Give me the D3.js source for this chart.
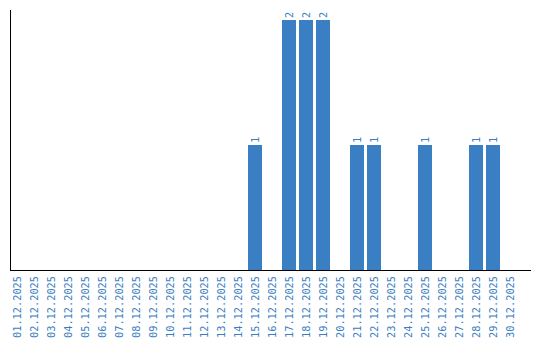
<!DOCTYPE html>
<html><head><meta charset="utf-8">
<script src="https://cdn.jsdelivr.net/npm/d3@7"></script>
<style>body{margin:0;background:#fff}svg{display:block}text{font-family:"DejaVu Sans Mono",monospace}</style>
</head><body><svg id="c" width="540" height="340"></svg>
<script>
const dates = ["01.12.2025","02.12.2025","03.12.2025","04.12.2025","05.12.2025","06.12.2025","07.12.2025","08.12.2025","09.12.2025","10.12.2025","11.12.2025","12.12.2025","13.12.2025","14.12.2025","15.12.2025","16.12.2025","17.12.2025","18.12.2025","19.12.2025","20.12.2025","21.12.2025","22.12.2025","23.12.2025","24.12.2025","25.12.2025","26.12.2025","27.12.2025","28.12.2025","29.12.2025","30.12.2025"];
const counts = [0,0,0,0,0,0,0,0,0,0,0,0,0,0,1,0,2,2,2,0,1,1,0,0,1,0,0,1,1,0];

const svg = d3.select("#c");
const color = "#3a7ec3";
const font = "DejaVu Sans Mono, monospace";
const x = d3.scaleBand().domain(dates).range([8.5, 518.5]).paddingInner(3/17).paddingOuter(3/34);
const y = d3.scaleLinear().domain([0, d3.max(counts) * 1.04]).range([270, 10]);
const data = dates.map((d, i) => ({d, v: counts[i]}));

svg.append("g").selectAll("rect").data(data.filter(e => e.v > 0)).join("rect")
  .attr("x", e => x(e.d)).attr("width", x.bandwidth())
  .attr("y", e => y(e.v)).attr("height", e => y(0) - y(e.v))
  .attr("fill", color);

svg.append("g").selectAll("text").data(data.filter(e => e.v > 0)).join("text")
  .attr("transform", e => `translate(${x(e.d) + x.bandwidth()/2},${y(e.v) - 2}) rotate(-90)`)
  .attr("dy", "0.35em").attr("text-anchor", "start").attr("font-family", font)
  .attr("font-size", 10.3).attr("fill", color).text(e => e.v);

const xa = svg.append("g").attr("transform", "translate(0,270)")
  .call(d3.axisBottom(x).tickSize(0).tickPadding(0));
xa.select(".domain").remove();
xa.selectAll("text").attr("font-size", 10.3).attr("fill", color)
  .attr("font-family", font)
  .attr("text-anchor", "end").attr("transform", "translate(0,6) rotate(-90)")
  .attr("x", 0).attr("y", 0).attr("dy", "0.35em");

svg.append("line").attr("x1", 10).attr("x2", 531).attr("y1", 270.5).attr("y2", 270.5).attr("stroke", "#000");
svg.append("line").attr("x1", 10.5).attr("x2", 10.5).attr("y1", 10).attr("y2", 271).attr("stroke", "#000");
</script></body></html>
